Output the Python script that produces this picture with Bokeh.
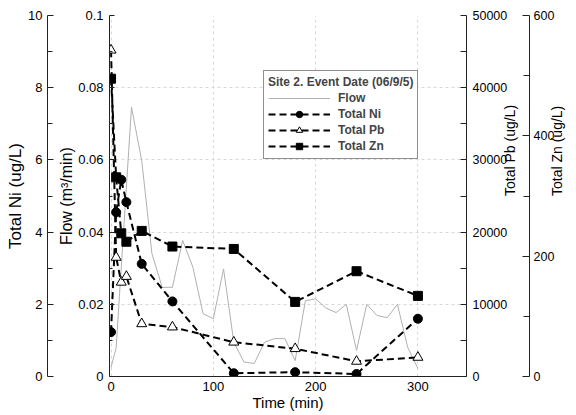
import math
from bokeh.plotting import figure
from bokeh.models import (LinearAxis, Range1d, FixedTicker, Legend, LegendItem,
                          CustomJSTickFormatter, NumeralTickFormatter)
from bokeh.embed import file_html
from bokeh.resources import INLINE

# ---- data ----
flow_time = [0, 5, 20, 30, 40, 50, 60, 70, 80, 90, 100, 110, 120, 130, 140, 150,
             160, 170, 180, 190, 200, 210, 220, 230, 240, 250, 260, 270, 280, 290, 300]
flow = [0.0025, 0.0080, 0.0746, 0.0598, 0.0340, 0.0247, 0.0247, 0.0377, 0.0303, 0.0174,
        0.0160, 0.0298, 0.0095, 0.0040, 0.0036, 0.0095, 0.0105, 0.0105, 0.0044, 0.0210,
        0.0215, 0.0190, 0.0177, 0.0200, 0.0072, 0.0200, 0.0169, 0.0163, 0.0200, 0.0081, 0.0022]

metal_time = [0, 5, 10, 15, 30, 60, 120, 180, 240, 300]
ni = [1.23, 4.55, 5.45, 4.83, 3.12, 2.08, 0.09, 0.12, 0.07, 1.60]
pb = [45200, 16500, 13050, 13850, 7300, 6850, 4750, 3850, 2100, 2650]
zn = [495, 331, 238, 224, 242, 216, 212, 124, 175, 134]

x_ticks = [0, 100, 200, 300]
flow_ticks = [0, 0.02, 0.04, 0.06, 0.08, 0.1]
flow_minor = [0.01, 0.03, 0.05, 0.07, 0.09]
ni_ticks = [0, 2, 4, 6, 8, 10]
ni_minor = [1, 3, 5, 7, 9]
pb_ticks = [0, 10000, 20000, 30000, 40000, 50000]
pb_minor = [5000, 15000, 25000, 35000, 45000]
zn_ticks = [0, 200, 400, 600]
zn_minor = [100, 300, 500]

FONT = "Liberation Sans"

p = figure(width=576, height=415, x_range=Range1d(-1.5, 347.5), y_range=Range1d(0, 0.1),
           output_backend="svg", toolbar_location=None,
           min_border_left=109, min_border_right=110, min_border_top=15, min_border_bottom=39)
p.outline_line_color = None
p.background_fill_color = "white"
p.border_fill_color = "white"

p.extra_y_ranges = {"ni": Range1d(0, 10), "pb": Range1d(0, 50000), "zn": Range1d(0, 600)}


def style_axis(ax, title, title_size, tick_size, tick_in=6, minor_in=6, standoff=5,
               title_standoff=0):
    ax.axis_label = title
    ax.axis_label_text_font = FONT
    ax.axis_label_text_font_size = title_size
    ax.axis_label_text_font_style = "normal"
    ax.axis_label_text_color = "black"
    ax.axis_label_standoff = title_standoff
    ax.major_label_text_font = FONT
    ax.major_label_text_font_size = tick_size
    ax.major_label_text_color = "black"
    ax.major_label_standoff = standoff
    ax.axis_line_color = "#222222"
    ax.axis_line_width = 1
    ax.major_tick_line_color = "#222222"
    ax.minor_tick_line_color = "#222222"
    ax.major_tick_in = tick_in
    ax.major_tick_out = 0
    ax.minor_tick_in = minor_in
    ax.minor_tick_out = 0


def spacer(width):
    ax = LinearAxis(ticker=FixedTicker(ticks=[0.005], minor_ticks=[]), axis_label=None)
    ax.axis_line_color = None
    ax.major_tick_line_color = "white"
    ax.minor_tick_line_color = None
    ax.major_tick_out = width
    ax.major_tick_in = 0
    ax.minor_tick_out = 0
    ax.minor_tick_in = 0
    ax.major_label_standoff = 0
    ax.major_label_overrides = {0.005: ""}
    ax.major_label_text_alpha = 0
    return ax


# x axis
xa = p.xaxis[0]
xa.ticker = FixedTicker(ticks=x_ticks)
style_axis(xa, "Time (min)", "15px", "13px", tick_in=0, minor_in=0, standoff=5, title_standoff=0)

# flow axis (default left axis, next to the frame)
fa = p.yaxis[0]
fa.ticker = FixedTicker(ticks=flow_ticks, minor_ticks=flow_minor)
fa.formatter = CustomJSTickFormatter(code="return String(Math.round(tick*100)/100)")
style_axis(fa, "Flow (m³/min)", "16px", "13px", tick_in=5, minor_in=3, standoff=6)

p.add_layout(spacer(8), "left")

na = LinearAxis(y_range_name="ni", ticker=FixedTicker(ticks=ni_ticks, minor_ticks=ni_minor))
style_axis(na, "Total Ni (ug/L)", "17px", "13px", tick_in=6, minor_in=5, standoff=5)
p.add_layout(na, "left")

pa = LinearAxis(y_range_name="pb", ticker=FixedTicker(ticks=pb_ticks, minor_ticks=pb_minor),
                formatter=NumeralTickFormatter(format="0"))
style_axis(pa, "Total Pb (ug/L)", "14px", "12.5px", tick_in=6, minor_in=6, standoff=6)
pa.axis_label_orientation = math.pi / 2
p.add_layout(pa, "right")

za = LinearAxis(y_range_name="zn", ticker=FixedTicker(ticks=zn_ticks, minor_ticks=zn_minor))
style_axis(za, "Total Zn (ug/L)", "14px", "12.5px", tick_in=7, minor_in=6, standoff=4)
za.axis_label_orientation = math.pi / 2
p.add_layout(za, "right")

# grids
p.xgrid.ticker = FixedTicker(ticks=x_ticks)
p.ygrid.ticker = FixedTicker(ticks=flow_ticks)
for g in (p.xgrid, p.ygrid):
    g.grid_line_color = "#d8d8d8"
    g.grid_line_dash = "3 3"
    g.grid_line_width = 1

# series
flow_r = p.line(flow_time, flow, line_color="#b0b0b0", line_width=1)

DASH = "7 4"
ni_l = p.line(metal_time, ni, y_range_name="ni", line_color="black", line_width=2, line_dash=DASH)
pb_l = p.line(metal_time, pb, y_range_name="pb", line_color="black", line_width=2, line_dash=DASH)
zn_l = p.line(metal_time, zn, y_range_name="zn", line_color="black", line_width=2, line_dash=DASH)

ni_m = p.scatter(metal_time, ni, y_range_name="ni", marker="circle", size=9,
                 fill_color="black", line_color="black")
pb_m = p.scatter(metal_time, pb, y_range_name="pb", marker="triangle", size=10,
                 fill_color="white", line_color="black", line_width=1)
zn_m = p.scatter(metal_time, zn, y_range_name="zn", marker="square", size=9,
                 fill_color="black", line_color="black")

legend = Legend(items=[
    LegendItem(label="Flow", renderers=[flow_r]),
    LegendItem(label="Total Ni", renderers=[ni_l, ni_m]),
    LegendItem(label="Total Pb", renderers=[pb_l, pb_m]),
    LegendItem(label="Total Zn", renderers=[zn_l, zn_m]),
], location=(154, 217))
legend.title = "Site 2. Event Date (06/9/5)"
legend.title_text_font = FONT
legend.title_text_font_size = "12px"
legend.title_text_font_style = "bold"
legend.title_standoff = 1
legend.label_text_font = FONT
legend.label_text_font_size = "12px"
legend.label_text_font_style = "bold"
legend.label_standoff = 8
legend.glyph_width = 62
legend.glyph_height = 16
legend.label_height = 16
legend.spacing = 0
legend.padding = 4
legend.margin = 0
legend.border_line_color = "#222222"
legend.border_line_width = 1
legend.background_fill_color = "white"
legend.background_fill_alpha = 1
p.add_layout(legend, "center")

open("out.html", "w").write(file_html(p, INLINE))
